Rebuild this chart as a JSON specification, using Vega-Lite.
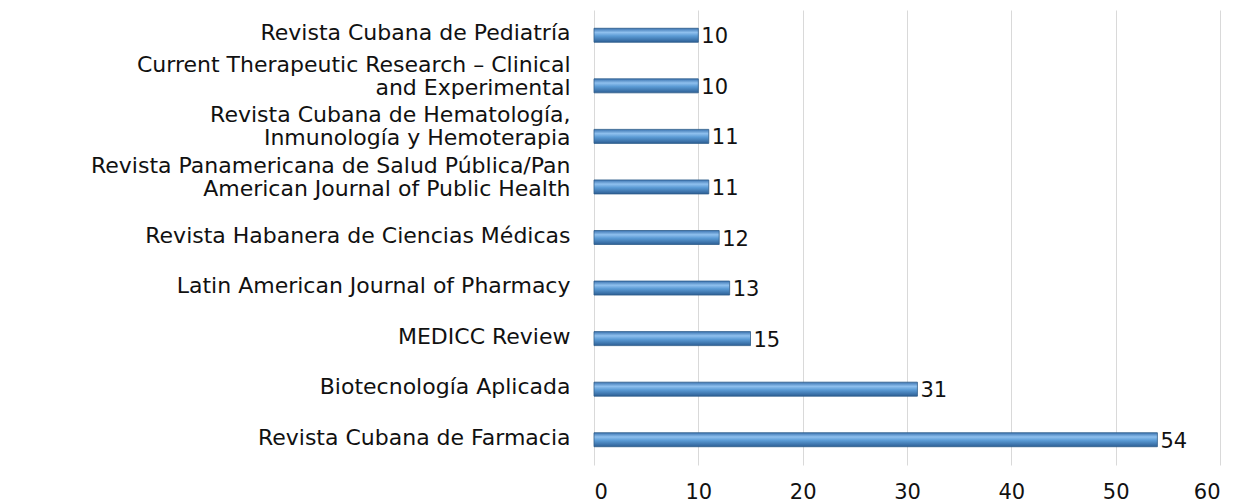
{
  "$schema": "https://vega.github.io/schema/vega-lite/v6.json",
  "autosize": "none",
  "width": 626,
  "height": 455,
  "padding": {"left": 594, "top": 10, "right": 19, "bottom": 39},
  "background": "white",
  "config": {"view": {"stroke": null}, "font": "DejaVu Sans"},
  "data": {"values": [
    {"journal": "Revista Cubana de Pediatría", "n": 10},
    {"journal": "Current Therapeutic Research – Clinical|and Experimental", "n": 10},
    {"journal": "Revista Cubana de Hematología,|Inmunología y Hemoterapia", "n": 11},
    {"journal": "Revista Panamericana de Salud Pública/Pan|American Journal of Public Health", "n": 11},
    {"journal": "Revista Habanera de Ciencias Médicas", "n": 12},
    {"journal": "Latin American Journal of Pharmacy", "n": 13},
    {"journal": "MEDICC Review", "n": 15},
    {"journal": "Biotecnología Aplicada", "n": 31},
    {"journal": "Revista Cubana de Farmacia", "n": 54}
  ]},
  "encoding": {
    "y": {"field": "journal", "type": "nominal", "sort": null,
      "axis": {"title": null, "ticks": false, "domain": false, "labelFontSize": 22, "labelColor": "#111", "labelPadding": 24, "labelLimit": 700,
        "labelExpr": "split(datum.label, '|')", "labelLineHeight": 23,
        "labelOffset": {"condition": {"test": "indexof(datum.value, '|') >= 0", "value": -21}, "value": -2}}},
    "x": {"field": "n", "type": "quantitative", "scale": {"domain": [0, 60]},
      "axis": {"title": null, "values": [0,10,20,30,40,50,60], "ticks": false, "domain": false, "grid": true, "gridColor": "#d9d9d9",
        "labelFontSize": 21, "labelColor": "#111", "labelPadding": 16}}
  },
  "layer": [
    {"mark": {"type": "bar", "height": 14, "stroke": "#2f5d8a", "strokeWidth": 0.8,
      "color": {"gradient": "linear", "x1": 0, "y1": 0, "x2": 0, "y2": 1,
        "stops": [{"offset": 0, "color": "#3a73b0"}, {"offset": 0.3, "color": "#8fc0ee"}, {"offset": 0.55, "color": "#5b9bd5"}, {"offset": 1, "color": "#2d5f95"}]}}},
    {"mark": {"type": "text", "align": "left", "dx": 3, "dy": 2, "fontSize": 21, "color": "#111"},
      "encoding": {"text": {"field": "n"}}}
  ]
}
